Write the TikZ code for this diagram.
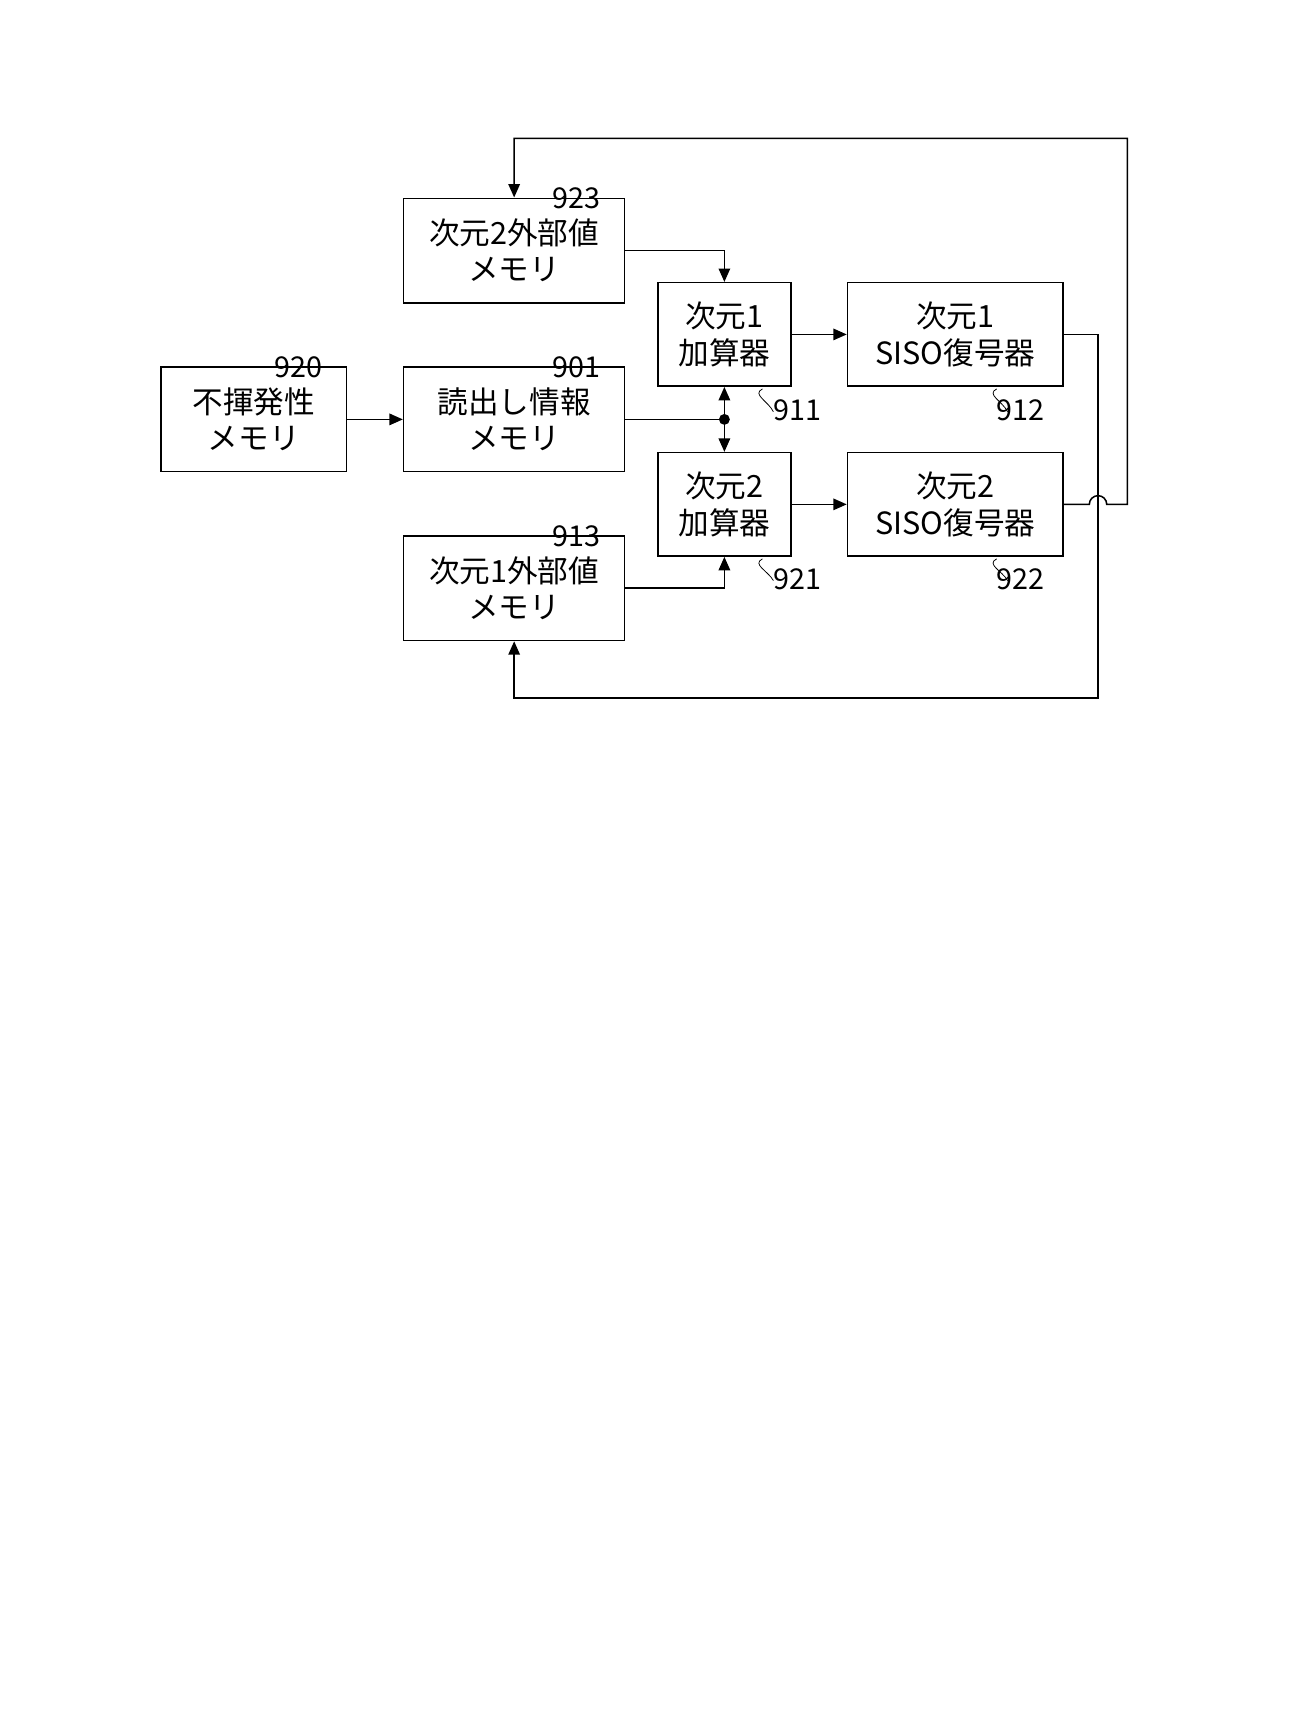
\documentclass[tikz,border=0pt]{standalone}
\usepackage{fontspec}
\setmainfont{Noto Sans CJK JP}
\usetikzlibrary{positioning,arrows.meta,calc}
\tikzset{
 blk/.style={draw,thick,minimum width=#1,inner sep=0pt,align=center,
   font=\fontsize{16}{19}\selectfont},
 blk/.default=4cm,
 lnk/.style={thick,-{Triangle[length=7pt,width=6pt]}},
 ref/.style={font=\fontsize{15}{18}\selectfont,inner sep=1pt}
}
% wavy leader: start point, label node name
\newcommand\leader[3]{%
 \draw[thin] (#1) .. controls +(-0.2,0.1) and +(0.2,-0.1) .. ($(#1)+(0,0.3)$) -- ($(#1)+(0.12,0.35)$);
 \node[ref,anchor=west] (#2) at ($(#1)+(0.1,0.4)$) {#3};}
\begin{document}
\begin{tikzpicture}[x=0.02cm,y=-0.02cm]
\useasboundingbox (0,0) rectangle (1200,1590);
% boxes
\node[blk=3.4cm,minimum height=1.92cm] (nvm) at (233,385) {不揮発性\\メモリ};
\node[blk=4.06cm,minimum height=1.92cm] (rd) at (472,385) {読出し情報\\メモリ};
\node[blk=4.06cm,minimum height=1.92cm] (ext2) at (472,230) {次元2外部値\\メモリ};
\node[blk=4.06cm,minimum height=1.92cm] (ext1) at (472,540) {次元1外部値\\メモリ};
\node[blk=2.44cm,minimum height=1.9cm] (add1) at (665,307) {次元1\\加算器};
\node[blk=2.44cm,minimum height=1.9cm] (add2) at (665,463) {次元2\\加算器};
\node[blk=3.96cm,minimum height=1.9cm] (dec1) at (877,307) {次元1\\SISO復号器};
\node[blk=3.96cm,minimum height=1.9cm] (dec2) at (877,463) {次元2\\SISO復号器};
\coordinate (jn) at (665,385);
% connectors
\draw[lnk] (nvm) -- (rd);
\draw[thick] (rd.east) -- (jn);
\fill (jn) circle (5);
\draw[lnk] (jn) -- (add1.south);
\draw[lnk] (jn) -- (add2.north);
\draw[lnk] (ext2.east |- 0,230) -| (add1.north);
\draw[lnk] (ext1.east |- 0,540) -| (add2.south);
\draw[lnk] (add1) -- (dec1);
\draw[lnk] (add2) -- (dec2);
\draw[lnk] (dec1.east) -- (1008,307) -- (1008,641) -| (ext1.south);
\draw[lnk] (dec2.east) -- (1000,463) arc (180:360:8) -- (1035,463) -- (1035,127) -| (ext2.north);
% reference numerals
\leader{250,337}{l920}{920}
\leader{505,337}{l901}{901}
\leader{505,182}{l923}{923}
\leader{505,492}{l913}{913}
\draw[thin] (700,357) .. controls (690,362) and (705,368) .. (710,378);
\node[ref,anchor=west] (l911) at (708,377) {911};
\draw[thin] (700,513) .. controls (690,518) and (705,524) .. (710,533);
\node[ref,anchor=west] (l921) at (708,532) {921};
\draw[thin] (915,357) .. controls (905,362) and (920,368) .. (925,378);
\node[ref,anchor=west] (l912) at (913,377) {912};
\draw[thin] (915,513) .. controls (905,518) and (920,524) .. (925,533);
\node[ref,anchor=west] (l922) at (913,532) {922};
\end{tikzpicture}
\end{document}
